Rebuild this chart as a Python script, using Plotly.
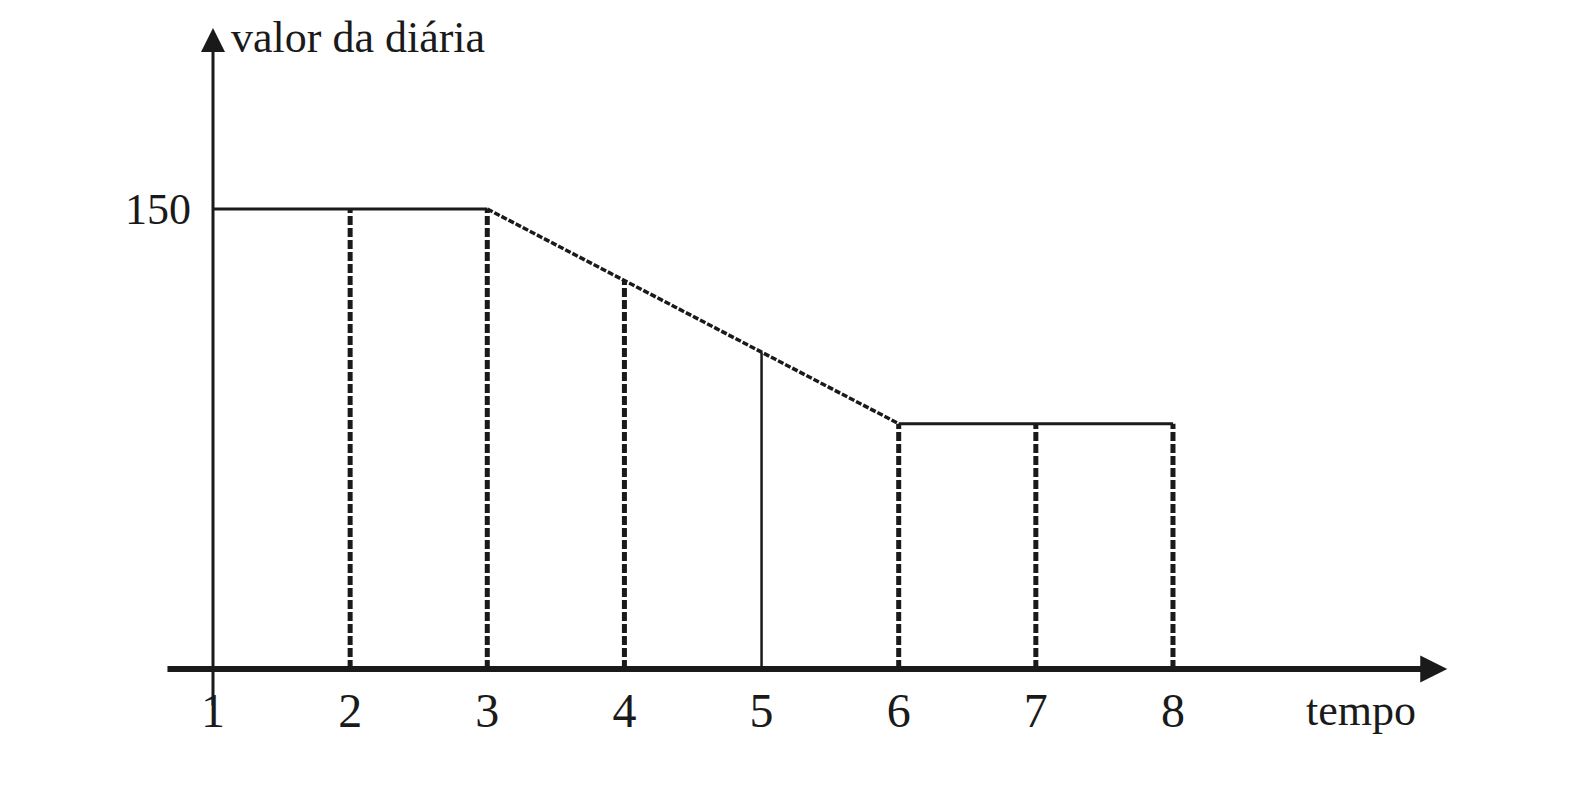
import plotly.graph_objects as go

# dados
tempo = [1, 2, 3, 4, 5, 6, 7, 8]
valor = [150, 150, 150, 126.7, 103.3, 80, 80, 80]
rotulos_x = ["1", "2", "3", "4", "5", "6", "7", "8"]
ticks_y = [150]
rotulos_y = ["150"]

ink = "#1a1a1a"
fonte = "Liberation Serif, Times New Roman, serif"

# a página tem 8px de margem no body, por isso tudo é deslocado
off = 8
px1, px_unit = 213 - off, 137.14
py0, py_unit = 669 - off, 460 / 150
xmin = 1 - px1 / px_unit
xmax = xmin + 1596 / px_unit
ymin = -(800 - py0) / py_unit
ymax = 150 + (209 - off) / py_unit

fig = go.Figure()

# linhas verticais até a curva (a do 5 é fina e contínua)
i5 = tempo.index(5)
vx, vy = [], []
for i in range(1, len(tempo)):
    if i == i5:
        continue
    vx += [tempo[i], tempo[i], None]
    vy += [0, valor[i], None]
fig.add_trace(go.Scatter(x=vx, y=vy, mode="lines",
                         line=dict(color=ink, width=5, dash="9px,3px")))
fig.add_trace(go.Scatter(x=[tempo[i5], tempo[i5]], y=[0, valor[i5]], mode="lines",
                         line=dict(color=ink, width=2.5)))

# curva do valor da diária
fig.add_trace(go.Scatter(x=tempo[:3], y=valor[:3], mode="lines",
                         line=dict(color=ink, width=3)))
fig.add_trace(go.Scatter(x=tempo[2:6], y=valor[2:6], mode="lines",
                         line=dict(color=ink, width=3.5, dash="6px,2px")))
fig.add_trace(go.Scatter(x=tempo[5:], y=valor[5:], mode="lines",
                         line=dict(color=ink, width=3)))

# eixos com setas
fig.add_annotation(x=10.0, y=0, ax=0.657, ay=0, xref="x", yref="y", axref="x", ayref="y",
                   text="", showarrow=True, arrowhead=2, arrowsize=0.9, arrowwidth=6,
                   arrowcolor=ink, standoff=0)
fig.add_annotation(x=1, y=209, ax=1, ay=-12.4, xref="x", yref="y", axref="x", ayref="y",
                   text="", showarrow=True, arrowhead=2, arrowsize=1.6, arrowwidth=3,
                   arrowcolor=ink, standoff=0)

fig.add_annotation(x=(229 - off) / 1596, y=1 - (37 - off) / 800, xref="paper", yref="paper",
                   text="valor da diária", showarrow=False, xanchor="left", yanchor="middle",
                   font=dict(family=fonte, size=44, color=ink))
fig.add_annotation(x=(1304 - off) / 1596, y=1 - (710 - off) / 800, xref="paper", yref="paper",
                   text="tempo", showarrow=False, xanchor="left", yanchor="middle",
                   font=dict(family=fonte, size=44, color=ink))

fig.update_layout(
    width=1596, height=800,
    margin=dict(l=0, r=0, t=0, b=0),
    paper_bgcolor="white", plot_bgcolor="white",
    showlegend=False,
    xaxis=dict(range=[xmin, xmax], showgrid=False, zeroline=False, showline=False,
               tickvals=tempo, ticktext=rotulos_x, ticks="", anchor="free",
               position=(800 - py0) / 800, ticklabelstandoff=9,
               tickfont=dict(family=fonte, size=48, color=ink)),
    yaxis=dict(range=[ymin, ymax], showgrid=False, zeroline=False, showline=False,
               tickvals=ticks_y, ticktext=rotulos_y, ticks="", anchor="free",
               position=px1 / 1596, ticklabelstandoff=22,
               tickfont=dict(family=fonte, size=44, color=ink)),
)

fig.write_html("out.html")
